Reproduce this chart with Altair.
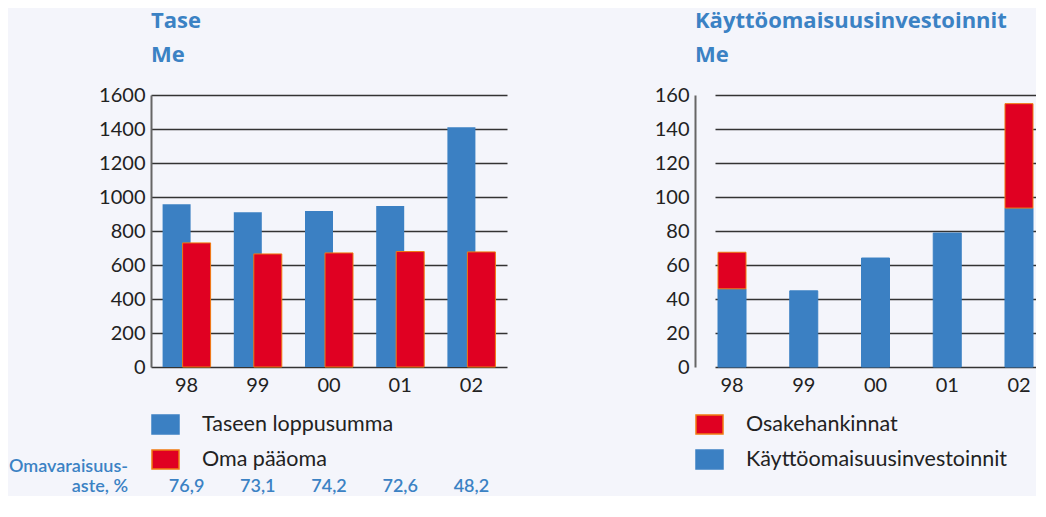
import altair as alt
import pandas as pd

years = ["98", "99", "00", "01", "02"]
total_assets = [958, 911, 917, 947, 1410]
equity = [730, 665, 671, 679, 677]
equity_ratio = ["76,9", "73,1", "74,2", "72,6", "48,2"]
capex = [46, 44.8, 64.1, 78.8, 93.5]
acquisitions = [21.5, 0, 0, 0, 61.4]

left_series = ["Taseen loppusumma", "Oma pääoma"]
right_series = ["Osakehankinnat", "Käyttöomaisuusinvestoinnit"]
ratio_label = ["Omavaraisuus-", "aste, %"]

BLUE = "#3b80c3"
RED = "#e00022"
EDGE = "#f07a10"
TITLE = "#3b82c4"
FONT = "Lato"
TFONT = "Open Sans"

left_df = pd.DataFrame({
    "year": years * 2,
    "value": total_assets + equity,
    "series": [left_series[0]] * 5 + [left_series[1]] * 5,
})
ratio_df = pd.DataFrame({"year": years, "ratio": equity_ratio})
label_df = pd.DataFrame({"k": [0]})

right_df = pd.DataFrame({
    "year": years * 2,
    "value": capex + acquisitions,
    "s": [right_series[1]] * 5 + [right_series[0]] * 5,
    "ord": [0] * 5 + [1] * 5,
})


def make_legend():
    return alt.Legend(
        orient="none", legendX=0, legendY=315, direction="vertical",
        symbolType="M-1,-0.7H1V0.7H-1Z", symbolSize=729, symbolOpacity=1,
        symbolStrokeWidth=1.5, labelLimit=400,
        labelFontSize=21.5, labelFont=FONT, labelColor="#222", labelOffset=22,
        rowPadding=8, padding=0,
    )


def make_title(lines):
    return alt.TitleParams(lines, anchor="start", frame="group",
                           fontSize=22, fontWeight="bold", color=TITLE, font=TFONT,
                           lineHeight=34, offset=18)


x_left = alt.X("year:N", sort=years, title=None,
               scale=alt.Scale(paddingInner=0, paddingOuter=0),
               axis=alt.Axis(labelAngle=0, ticks=False, labelPadding=8, domain=False))
y_left = alt.Y("value:Q", title=None,
               scale=alt.Scale(domain=[0, 1600], nice=False),
               axis=alt.Axis(values=list(range(0, 1601, 200)), format="d", ticks=False,
                             labelPadding=6, domainColor="#666", domainWidth=2,
                             gridColor="#333", gridWidth=1.5, gridOpacity=1))

color_left = alt.Color("series:N", title=None,
                       scale=alt.Scale(domain=left_series, range=[BLUE, RED]),
                       legend=make_legend())
stroke_left = alt.Stroke("series:N", title=None,
                         scale=alt.Scale(domain=left_series, range=[BLUE, EDGE]),
                         legend=make_legend())

blue_bars = alt.Chart(left_df).transform_filter(
    alt.datum.series == left_series[0]
).mark_bar(width=28, xOffset=-10, strokeWidth=0).encode(
    x=x_left, y=y_left, color=color_left, stroke=stroke_left)

red_bars = alt.Chart(left_df).transform_filter(
    alt.datum.series == left_series[1]
).mark_bar(width=28, xOffset=10, strokeWidth=1).encode(
    x=x_left, y=y_left, color=color_left, stroke=stroke_left)

ratio_text = alt.Chart(ratio_df).mark_text(
    font=FONT, fontSize=18, fontWeight=600, color=TITLE, baseline="alphabetic"
).encode(x=alt.X("year:N", sort=years), y=alt.value(397), text="ratio:N")

ratio_title = alt.Chart(label_df).mark_text(
    text=ratio_label, font=FONT, fontSize=18, fontWeight=600, color=TITLE,
    align="right", baseline="alphabetic", lineHeight=20
).encode(x=alt.value(-23), y=alt.value(377))

left = alt.layer(blue_bars, red_bars, ratio_text, ratio_title).properties(
    width=356, height=272, title=make_title(["Tase", "Me"]),
)

x_right = alt.X("year:N", sort=years, title=None,
                scale=alt.Scale(range=[20, 341], paddingInner=0.526, paddingOuter=0),
                axis=alt.Axis(labelAngle=0, ticks=False, labelPadding=8, domain=False))
y_right = alt.Y("value:Q", title=None, stack="zero",
                scale=alt.Scale(domain=[0, 160], nice=False),
                axis=alt.Axis(values=list(range(0, 161, 20)), ticks=False,
                              labelPadding=6, domainColor="#666", domainWidth=2,
                              gridColor="#333", gridWidth=1.5, gridOpacity=1))

right = alt.Chart(right_df).transform_filter(
    alt.datum.value > 0
).mark_bar(width=28, strokeWidth=1).encode(
    x=x_right,
    y=y_right,
    color=alt.Color("s:N", title=None,
                    scale=alt.Scale(domain=right_series, range=[RED, BLUE]),
                    legend=make_legend()),
    stroke=alt.Stroke("s:N", title=None,
                      scale=alt.Scale(domain=right_series, range=[EDGE, BLUE]),
                      legend=make_legend()),
    order=alt.Order("ord:Q", sort="ascending"),
).properties(
    width=341, height=272, title=make_title(["Käyttöomaisuusinvestoinnit", "Me"]),
)

chart = alt.hconcat(left, right, spacing=188, bounds="flush").resolve_scale(
    x="independent", y="independent", color="independent", stroke="independent"
).configure(
    background="#f4f5fb", padding={"left": 1, "top": 2, "right": 0, "bottom": 0}
).configure_view(stroke=None).configure_axis(
    labelFont=FONT, labelFontSize=20, labelColor="#222", grid=True
).configure_axisX(grid=False)

chart.save("out.html", embed_options={"renderer": "svg", "actions": False})
